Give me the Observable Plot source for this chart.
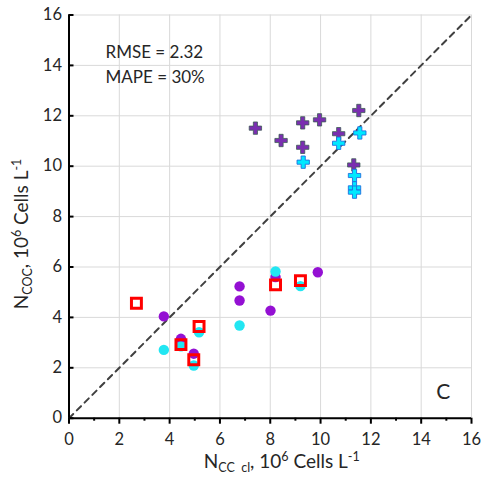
<!DOCTYPE html>
<html>
<head>
<meta charset="utf-8">
<script src="https://cdn.jsdelivr.net/npm/d3@7"></script>
<script src="https://cdn.jsdelivr.net/npm/@observablehq/plot@0.6"></script>
<style>
  html, body { margin: 0; padding: 0; background: #fff; }
  #chart svg { display: block; }
</style>
</head>
<body>
<div id="chart"></div>
<script>
// ---- data ----
const majorTicks = [0, 2, 4, 6, 8, 10, 12, 14, 16];
const minorTicks = [1, 3, 5, 7, 9, 11, 13, 15];
const diagonal = [0, 16];

const purpleCircX = [3.77, 4.45, 4.96, 6.78, 6.78, 8.01, 8.21, 9.89];
const purpleCircY = [4.04, 3.15, 2.56, 5.23, 4.67, 4.27, 5.60, 5.79];
const cyanCircX = [3.77, 4.45, 4.96, 5.17, 6.78, 8.21, 9.20];
const cyanCircY = [2.71, 2.85, 2.09, 3.41, 3.68, 5.82, 5.24];
const squareX = [2.68, 4.45, 4.96, 5.17, 8.21, 9.20];
const squareY = [4.56, 2.92, 2.32, 3.64, 5.29, 5.46];
const purpleCrossX = [7.41, 8.43, 9.29, 9.96, 9.29, 11.52, 10.72, 11.32];
const purpleCrossY = [11.51, 11.02, 11.72, 11.84, 10.75, 12.21, 11.29, 10.05];
const cyanCrossX = [9.31, 10.72, 11.56, 11.35, 11.35, 11.35];
const cyanCrossY = [10.16, 10.91, 11.32, 9.63, 9.14, 8.97];

const rmseText = ["RMSE = 2.32"];
const mapeText = ["MAPE = 30%"];
const panelLetter = ["C"];

const pts = (xs, ys) => xs.map((x, i) => ({x, y: ys[i]}));

const font = "Lato, 'Open Sans', sans-serif";
const textColor = "#262626";

const chart = Plot.plot({
  width: 483,
  height: 481,
  marginLeft: 68.5,
  marginRight: 12,
  marginTop: 14.5,
  marginBottom: 63.3,
  x: {domain: [0, 16]},
  y: {domain: [0, 16]},
  style: {fontFamily: font, fontSize: "16px", color: textColor, background: "#fff", overflow: "visible"},
  marks: [
    Plot.gridX(majorTicks, {stroke: "#d9d9d9", strokeOpacity: 1, strokeWidth: 1}),
    Plot.gridY(majorTicks, {stroke: "#d9d9d9", strokeOpacity: 1, strokeWidth: 1}),
    Plot.line(diagonal, {x: d => d, y: d => d, stroke: "#404040", strokeWidth: 2, strokeDasharray: "6,5"}),
    Plot.dot(pts(purpleCircX, purpleCircY), {x: "x", y: "y", r: 5.2, fill: "#9410D3", stroke: "none"}),
    Plot.dot(pts(cyanCircX, cyanCircY), {x: "x", y: "y", r: 5.2, fill: "#22E6F2", stroke: "none"}),
    Plot.dot(pts(squareX, squareY), {x: "x", y: "y", symbol: "square", r: 5.6, fill: "none", stroke: "#FF0000", strokeWidth: 3}),
    Plot.dot(pts(purpleCrossX, purpleCrossY), {x: "x", y: "y", symbol: "cross", r: 5.2, fill: "#7A2FB0", stroke: "#3D5C55", strokeWidth: 0.8}),
    Plot.dot(pts(cyanCrossX, cyanCrossY), {x: "x", y: "y", symbol: "cross", r: 5.2, fill: "#00E8FF", stroke: "#1F6FE0", strokeWidth: 0.9}),
    // axes
    Plot.axisX(majorTicks, {tickSize: 6, tickPadding: 9, label: null, stroke: "#000", strokeWidth: 2, fontSize: 16.5}),
    Plot.axisX(minorTicks, {tickSize: 3, text: null, label: null, stroke: "#000", strokeWidth: 2}),
    Plot.axisY(majorTicks, {tickSize: 0, tickPadding: 7, label: null, fontSize: 16.5}),
    Plot.axisY(majorTicks, {tickSize: 5, dx: 5, text: null, label: null, stroke: "#000", strokeWidth: 2}),
    Plot.ruleY([0], {stroke: "#000", strokeWidth: 2}),
    Plot.ruleX([0], {stroke: "#000", strokeWidth: 2}),
    // annotations
    Plot.text(rmseText, {text: d => d, frameAnchor: "top-left", textAnchor: "start", lineAnchor: "middle",
      dx: 36.5, dy: 38, fontSize: 17, fill: textColor}),
    Plot.text(mapeText, {text: d => d, frameAnchor: "top-left", textAnchor: "start", lineAnchor: "middle",
      dx: 36.5, dy: 63, fontSize: 17, fill: textColor}),
    Plot.text(panelLetter, {text: d => d, frameAnchor: "bottom-right", textAnchor: "middle", lineAnchor: "middle",
      dx: -28.3, dy: -25.7, fontSize: 21, fill: textColor})
  ]
});

document.getElementById("chart").appendChild(chart);

const svg = d3.select(chart);

// axis titles with sub/superscripts
function addLabel(parent, parts, attrs) {
  const t = parent.append("text")
    .attr("font-family", font)
    .attr("fill", textColor)
    .attr("text-anchor", "middle");
  for (const [k, v] of Object.entries(attrs)) t.attr(k, v);
  for (const p of parts) {
    const s = t.append("tspan").text(p.t).attr("font-size", p.size);
    if (p.shift) s.attr("baseline-shift", p.shift);
  }
  return t;
}
const big = 19, small = 12.5;
addLabel(svg, [
  {t: "N", size: big},
  {t: "CC  cl", size: small, shift: "-4"},
  {t: ", 10", size: big},
  {t: "6", size: small, shift: "7"},
  {t: " Cells L", size: big},
  {t: "-1", size: small, shift: "7"}
], {x: 281.7, y: 468});
addLabel(svg, [
  {t: "N", size: big},
  {t: "COC", size: small, shift: "-4"},
  {t: ", 10", size: big},
  {t: "6", size: small, shift: "7"},
  {t: " Cells L", size: big},
  {t: "-1", size: small, shift: "7"}
], {transform: "translate(28.3,234) rotate(-90)"});
</script>
</body>
</html>
